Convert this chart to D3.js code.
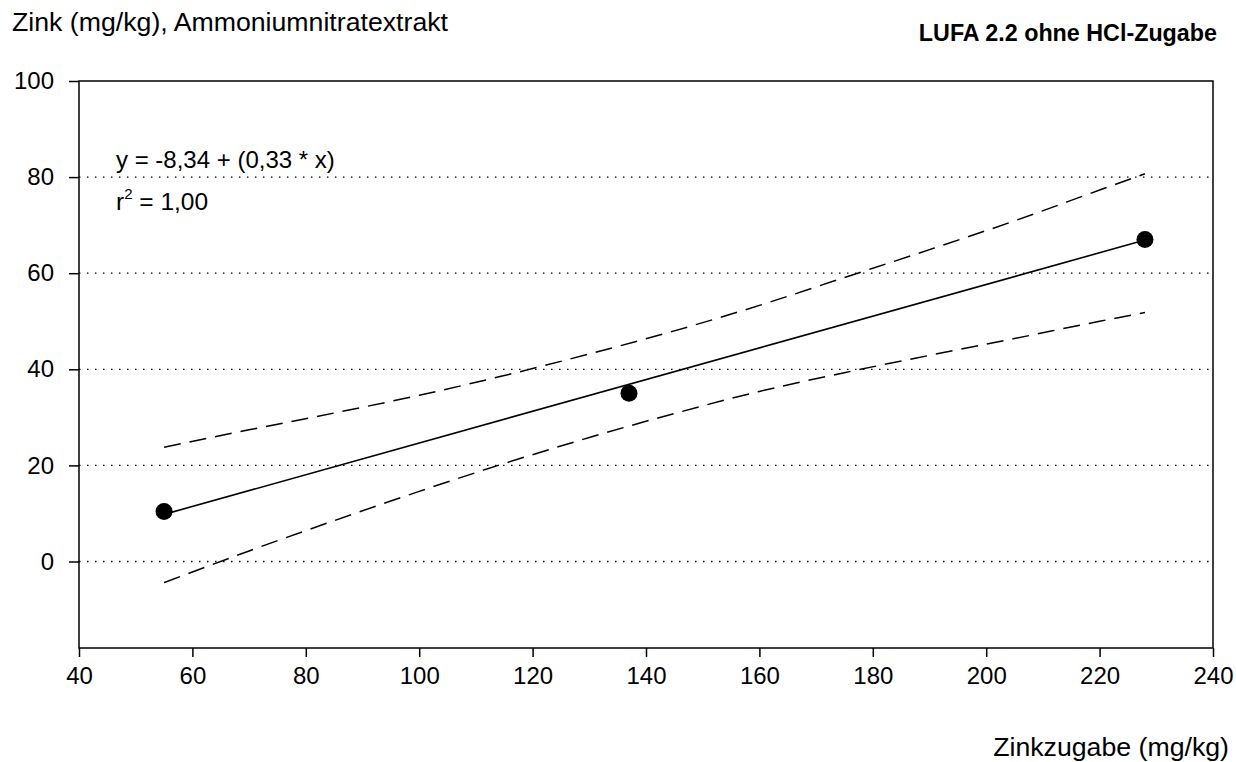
<!DOCTYPE html>
<html>
<head>
<meta charset="utf-8">
<script src="https://cdn.jsdelivr.net/npm/d3@7/dist/d3.min.js"></script>
<style>
  html, body { margin: 0; padding: 0; background: #fff; }
  svg { display: block; }
  text { font-family: "Liberation Sans", Arial, Helvetica, sans-serif; fill: #000; }
</style>
</head>
<body>
<svg id="chart" width="1236" height="762"></svg>
<script>
// Measured samples: Zinc addition (mg/kg) vs. ammonium nitrate extractable Zn (mg/kg)
const sampleX = [55, 137, 228];
const sampleY = [10.4, 35.0, 67.0];

// Linear regression coefficients
const intercept = -8.34;
const slope = 0.33;
const rSquared = "1,00";

// Confidence band of the regression
const bandX     = [55,   70,   85,   100,  115,  130,  145,  160,  175,  190,  205,  220,  228];
const bandUpper = [23.8, 27.4, 30.9, 34.6, 38.7, 43.2, 48.0, 53.3, 59.1, 64.9, 70.9, 77.3, 80.7];
const bandLower = [-4.4, 2.2,  8.5,  14.6, 20.4, 25.8, 30.8, 35.4, 39.3, 42.9, 46.4, 50.0, 51.8];

const xTicks = [40, 60, 80, 100, 120, 140, 160, 180, 200, 220, 240];
const yTicks = [0, 20, 40, 60, 80, 100];
const gridLevels = [0, 20, 40, 60, 80];

const svg = d3.select("#chart");
const plotLeft = 79, plotRight = 1213, plotTop = 81, plotBottom = 648;

const x = d3.scaleLinear().domain([40, 240]).range([plotLeft, plotRight]);
const y = d3.scaleLinear().domain([-18, 100]).range([plotBottom, plotTop]);

// decimal comma, plain hyphen for negatives
const deFmt = v => v.toFixed(2).replace(".", ",");

// horizontal dotted grid
svg.append("g")
  .selectAll("line")
  .data(gridLevels)
  .join("line")
  .attr("x1", plotLeft).attr("x2", plotRight)
  .attr("y1", d => y(d)).attr("y2", d => y(d))
  .attr("stroke", "#000")
  .attr("stroke-width", 1.3)
  .attr("stroke-dasharray", "1.5,6.5");

// frame
svg.append("rect")
  .attr("x", plotLeft).attr("y", plotTop)
  .attr("width", plotRight - plotLeft).attr("height", plotBottom - plotTop)
  .attr("fill", "none").attr("stroke", "#000").attr("stroke-width", 1.5);

// axes
const xAxis = svg.append("g")
  .attr("transform", `translate(0,${plotBottom})`)
  .call(d3.axisBottom(x).tickValues(xTicks).tickSize(9).tickPadding(10).tickFormat(d3.format("d")));
const yAxis = svg.append("g")
  .attr("transform", `translate(${plotLeft},0)`)
  .call(d3.axisLeft(y).tickValues(yTicks).tickSize(10).tickPadding(15).tickFormat(d3.format("d")));

[xAxis, yAxis].forEach(a => {
  a.select(".domain").remove();
  a.selectAll(".tick line").attr("stroke", "#000").attr("stroke-width", 1.5);
  a.selectAll(".tick text")
    .attr("font-size", 24)
    .attr("font-family", "'Liberation Sans', Arial, sans-serif")
    .attr("fill", "#000");
});

// confidence band curves
const bandLine = d3.line()
  .x(d => x(d[0]))
  .y(d => y(d[1]))
  .curve(d3.curveMonotoneX);

[bandUpper, bandLower].forEach(vals => {
  svg.append("path")
    .datum(bandX.map((bx, i) => [bx, vals[i]]))
    .attr("d", bandLine)
    .attr("fill", "none")
    .attr("stroke", "#000")
    .attr("stroke-width", 1.5)
    .attr("stroke-dasharray", "17,9");
});

// regression line over the sampled range
const xMin = d3.min(sampleX), xMax = d3.max(sampleX);
svg.append("line")
  .attr("x1", x(xMin)).attr("y1", y(intercept + slope * xMin))
  .attr("x2", x(xMax)).attr("y2", y(intercept + slope * xMax))
  .attr("stroke", "#000")
  .attr("stroke-width", 1.6);

// sample points
svg.append("g")
  .selectAll("circle")
  .data(sampleX.map((sx, i) => [sx, sampleY[i]]))
  .join("circle")
  .attr("cx", d => x(d[0]))
  .attr("cy", d => y(d[1]))
  .attr("r", 8.5)
  .attr("fill", "#000");

// titles
svg.append("text")
  .attr("x", 12).attr("y", 31)
  .attr("font-size", 26.7)
  .text("Zink (mg/kg), Ammoniumnitratextrakt");

svg.append("text")
  .attr("x", 1217).attr("y", 41)
  .attr("text-anchor", "end")
  .attr("font-size", 23.3)
  .attr("font-weight", "bold")
  .text("LUFA 2.2 ohne HCl-Zugabe");

svg.append("text")
  .attr("x", 1229).attr("y", 756)
  .attr("text-anchor", "end")
  .attr("font-size", 26.7)
  .text("Zinkzugabe (mg/kg)");

// regression annotation
svg.append("text")
  .attr("x", 116).attr("y", 168)
  .attr("font-size", 24)
  .text(`y = ${deFmt(intercept)} + (${deFmt(slope)} * x)`);

const r2 = svg.append("text")
  .attr("x", 116).attr("y", 210)
  .attr("font-size", 24.5);
r2.append("tspan").text("r");
r2.append("tspan").attr("font-size", 15).attr("dy", -11).text("2");
r2.append("tspan").attr("dy", 11).text(` = ${rSquared}`);
</script>
</body>
</html>
